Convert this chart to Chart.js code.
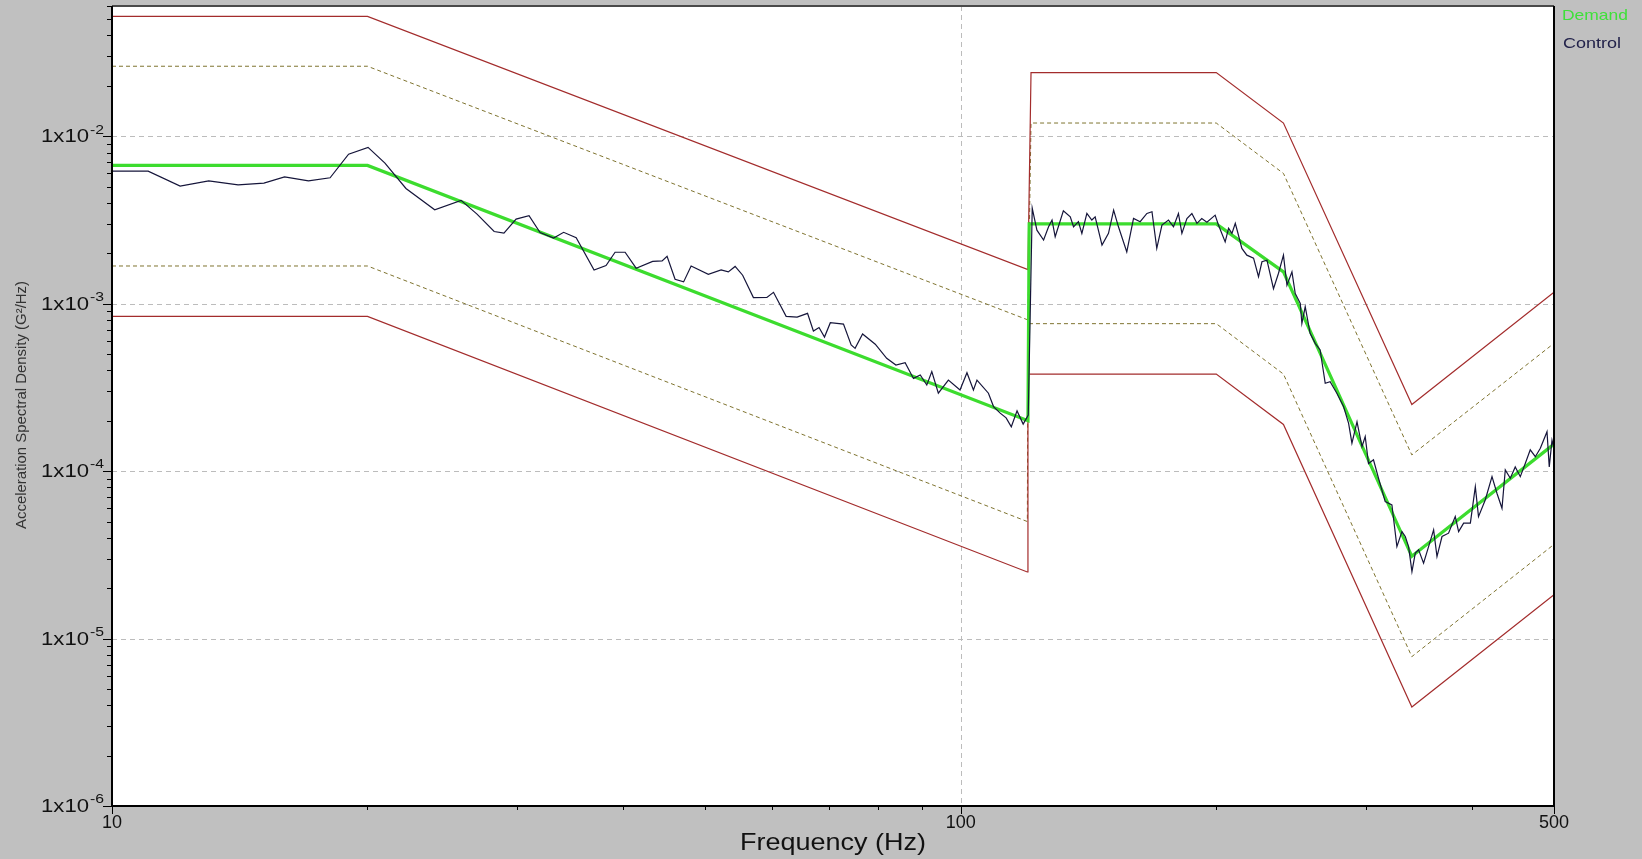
<!DOCTYPE html>
<html>
<head>
<meta charset="utf-8">
<title>Acceleration Spectral Density</title>
<script src="https://cdn.jsdelivr.net/npm/chart.js@4/dist/chart.umd.min.js"></script>
<style>
  html, body { margin: 0; padding: 0; background: #c0c0c0; }
  #wrap { width: 1642px; height: 859px; }
</style>
</head>
<body>
<div id="wrap"><canvas id="psd" width="1642" height="859"></canvas></div>
<script>
// ---- Axis ticks ----
const xTickValues = [10, 100, 500];
const xTickLabels = ['10', '100', '500'];
const xMinorTicks = [20, 30, 40, 50, 60, 70, 80, 90, 200, 300, 400];
const xGridValues = [100];

const yTickValues = [1e-6, 1e-5, 1e-4, 1e-3, 1e-2];
const yTickExponents = ['-6', '-5', '-4', '-3', '-2'];
const yGridValues = [1e-5, 1e-4, 1e-3, 1e-2];

// ---- Demand profile (G²/Hz) ----
const demandFreq = [10, 20, 120, 120.4, 200, 240, 340, 500];
const demandAsd  = [0.0067, 0.0067, 0.0002, 0.003, 0.003, 0.00155, 0.000031, 0.000145];

// ---- Tolerance lines (abort ±9 dB, alarm ±6 dB) ----
const upperFreq = [10, 20, 120, 121, 200, 240, 340, 500];
const lowerFreq = [10, 20, 119.8, 120, 200, 240, 340, 500];
const abortHigh = [0.052, 0.052, 0.0016, 0.024, 0.024, 0.012, 0.00025, 0.00117];
const alarmHigh = [0.0262, 0.0262, 0.0008, 0.012, 0.012, 0.006, 0.000125, 0.00058];
const alarmLow  = [0.00168, 0.00168, 0.00005, 0.00076, 0.00076, 0.00038, 0.0000078, 0.0000365];
const abortLow  = [0.00084, 0.00084, 0.000025, 0.00038, 0.00038, 0.00019, 0.0000039, 0.0000183];

// ---- Measured control spectrum ----
const controlFreq = [
  10, 11.03, 12.03, 13.0, 14.08, 15.1, 15.97, 17.04, 18.07, 19.0,
  20.03, 20.97, 22.2, 24.0, 25.78, 26.92, 28.2, 28.96, 29.93, 31.0,
  31.94, 33.14, 34.05, 35.23, 36.98, 38.2, 39.15, 40.23, 41.45, 43.35,
  44.48, 45.08, 46.07, 47.15, 48.12, 50.42, 52.2, 53.23, 54.22, 55.34,
  56.98, 59.1, 60.17, 62.27, 64.15, 65.99, 67.05, 68.08, 69.1, 70.2,
  72.75, 74.28, 75.08, 76.62, 79.3, 81.8, 83.87, 86.0, 87.96, 89.6,
  91.2, 92.45, 94.1, 96.7, 99.8, 101.7, 103.5, 104.5, 107.8, 109.3,
  111.3, 113.1, 114.7, 116.5, 118.45, 120.1,
  121.4, 122.95, 125.2, 126.9, 128.1, 129.2, 132.1, 134.6, 135.8, 137.6,
  138.9, 140.8, 142.7, 144.0, 146.7, 149.3, 151.4, 153.4, 156.9, 159.8,
  162.7, 165.7, 168.0, 170.2, 172.6, 175.7, 178.1, 180.5, 182.2, 184.7,
  187.2, 189.8, 192.3, 195.0, 199.4, 201.2, 204.9, 206.8, 208.7, 210.6,
  211.9, 214.4, 217.3, 221.3, 224.3, 226.4, 229.5, 233.6, 236.8, 240.0,
  242.3, 245.6, 247.8, 251.2, 252.3, 254.6, 258.0, 261.6, 265.1, 268.8,
  272.4, 277.4, 282.5, 286.4, 289.0, 293.0, 297.0, 299.6, 302.3, 306.4,
  310.6, 316.3, 322.1, 326.5, 331.0, 334.0, 337.0, 340.1, 343.2, 346.3,
  351.0, 355.8, 360.7, 364.0, 369.0, 375.6, 382.5, 386.0, 391.3, 398.5,
  403.9, 407.4, 414.9, 422.6, 428.3, 434.2, 438.1, 444.1, 450.1, 456.3,
  462.5, 468.8, 475.3, 481.8, 490.6, 493.6, 497.3, 499.4
];
const controlAsd = [
  6.19e-3, 6.19e-3, 5.04e-3, 5.42e-3, 5.13e-3, 5.25e-3, 5.72e-3, 5.42e-3, 5.65e-3, 7.82e-3,
  8.58e-3, 6.91e-3, 4.88e-3, 3.64e-3, 4.14e-3, 3.43e-3, 2.70e-3, 2.64e-3, 3.20e-3, 3.36e-3,
  2.66e-3, 2.47e-3, 2.67e-3, 2.48e-3, 1.59e-3, 1.69e-3, 2.03e-3, 2.03e-3, 1.63e-3, 1.79e-3,
  1.80e-3, 1.92e-3, 1.40e-3, 1.35e-3, 1.68e-3, 1.50e-3, 1.59e-3, 1.55e-3, 1.67e-3, 1.48e-3,
  1.088e-3, 1.09e-3, 1.17e-3, 8.40e-4, 8.32e-4, 8.76e-4, 6.87e-4, 7.21e-4, 6.32e-4, 7.70e-4,
  7.56e-4, 5.67e-4, 5.41e-4, 6.59e-4, 5.73e-4, 4.72e-4, 4.30e-4, 4.44e-4, 3.58e-4, 3.75e-4,
  3.27e-4, 3.93e-4, 2.92e-4, 3.50e-4, 3.05e-4, 3.87e-4, 3.05e-4, 3.50e-4, 2.92e-4, 2.43e-4,
  2.22e-4, 2.08e-4, 1.84e-4, 2.29e-4, 1.91e-4, 2.16e-4,
  3.72e-3, 2.75e-3, 2.40e-3, 2.88e-3, 3.16e-3, 2.51e-3, 3.59e-3, 3.30e-3, 2.88e-3, 3.09e-3,
  2.63e-3, 3.46e-3, 3.16e-3, 3.30e-3, 2.24e-3, 2.63e-3, 3.62e-3, 2.88e-3, 2.04e-3, 3.23e-3,
  3.09e-3, 3.46e-3, 3.54e-3, 2.14e-3, 2.95e-3, 3.16e-3, 2.88e-3, 3.46e-3, 2.63e-3, 3.23e-3,
  3.46e-3, 3.02e-3, 3.23e-3, 3.07e-3, 3.38e-3, 2.95e-3, 2.34e-3, 2.82e-3, 2.63e-3, 3.02e-3,
  2.69e-3, 2.14e-3, 1.95e-3, 1.87e-3, 1.45e-3, 1.78e-3, 1.82e-3, 1.23e-3, 1.52e-3, 1.95e-3,
  1.29e-3, 1.55e-3, 1.15e-3, 1.005e-3, 7.63e-4, 9.59e-4, 6.65e-4, 5.80e-4, 5.29e-4, 3.35e-4,
  3.42e-4, 2.92e-4, 2.43e-4, 1.93e-4, 1.47e-4, 1.97e-4, 1.40e-4, 1.61e-4, 1.11e-4, 1.17e-4,
  9.07e-5, 6.58e-5, 6.28e-5, 3.54e-5, 4.35e-5, 4.07e-5, 3.54e-5, 2.51e-5, 3.24e-5, 3.39e-5,
  2.82e-5, 3.54e-5, 4.46e-5, 3.09e-5, 4.07e-5, 4.26e-5, 5.35e-5, 4.35e-5, 4.89e-5, 4.89e-5,
  8.08e-5, 5.35e-5, 6.73e-5, 9.27e-5, 7.38e-5, 6.00e-5, 1.017e-4, 9.07e-5, 1.06e-4, 9.27e-5,
  1.11e-4, 1.34e-4, 1.22e-4, 1.37e-4, 1.72e-4, 1.06e-4, 1.53e-4, 1.40e-4
];

// ---- Styling ----
const PAGE_BG = '#c0c0c0';
const GRID = '#bcbcbc';
const ABORT = '#a32c2c';
const ALARM = '#7f7430';
const DEMAND = '#3cdc2e';
const CONTROL = '#15153a';
const FONT = '"Liberation Sans", Arial, sans-serif';

const toPoints = (xs, ys) => xs.map((x, i) => ({ x: x, y: ys[i] }));

// Draws text horizontally stretched/compressed to a given width.
function drawText(ctx, text, x, y, size, width, align, color) {
  ctx.save();
  ctx.font = size + 'px ' + FONT;
  const w = ctx.measureText(text).width;
  const s = width ? width / w : 1;
  ctx.translate(x, y);
  ctx.scale(s, 1);
  ctx.textAlign = align;
  ctx.textBaseline = 'middle';
  ctx.fillStyle = color;
  ctx.fillText(text, 0, 0);
  ctx.restore();
  return w * s;
}

const plotFrame = {
  id: 'plotFrame',
  beforeDraw(chart) {
    const { ctx, chartArea: a } = chart;
    const xs = chart.scales.x, ys = chart.scales.y;
    ctx.save();
    ctx.fillStyle = PAGE_BG;
    ctx.fillRect(0, 0, chart.width, chart.height);
    ctx.fillStyle = '#ffffff';
    ctx.fillRect(a.left, a.top, a.right - a.left, a.bottom - a.top);
    ctx.strokeStyle = GRID;
    ctx.lineWidth = 1;
    ctx.setLineDash([5, 4]);
    yGridValues.forEach(v => {
      const y = Math.round(ys.getPixelForValue(v)) + 0.5;
      ctx.beginPath(); ctx.moveTo(a.left, y); ctx.lineTo(a.right, y); ctx.stroke();
    });
    xGridValues.forEach(v => {
      const x = Math.round(xs.getPixelForValue(v)) + 0.5;
      ctx.beginPath(); ctx.moveTo(x, a.top); ctx.lineTo(x, a.bottom); ctx.stroke();
    });
    ctx.restore();
  },
  afterDraw(chart) {
    const { ctx, chartArea: a } = chart;
    const xs = chart.scales.x, ys = chart.scales.y;
    ctx.save();
    // frame
    ctx.lineWidth = 2;
    ctx.strokeStyle = '#4a4a4a';
    ctx.beginPath(); ctx.moveTo(a.left, a.top); ctx.lineTo(a.right, a.top); ctx.stroke();
    ctx.strokeStyle = '#000000';
    ctx.beginPath();
    ctx.moveTo(a.right, a.top); ctx.lineTo(a.right, a.bottom);
    ctx.moveTo(a.left, a.top); ctx.lineTo(a.left, a.bottom); ctx.lineTo(a.right, a.bottom);
    ctx.stroke();

    // tick marks
    ctx.lineWidth = 1;
    ctx.strokeStyle = '#000000';
    ctx.beginPath();
    for (let d = -6; d < -1; d++) {
      for (let m = 2; m <= 9; m++) {
        const v = m * Math.pow(10, d);
        if (v > ys.max) break;
        const y = Math.round(ys.getPixelForValue(v)) + 0.5;
        ctx.moveTo(a.left - 5, y); ctx.lineTo(a.left, y);
      }
    }
    yTickValues.forEach(v => {
      const y = Math.round(ys.getPixelForValue(v)) + 0.5;
      ctx.moveTo(a.left - 9, y); ctx.lineTo(a.left, y);
    });
    xMinorTicks.forEach(v => {
      const x = Math.round(xs.getPixelForValue(v)) + 0.5;
      ctx.moveTo(x, a.bottom); ctx.lineTo(x, a.bottom + 4);
    });
    xTickValues.forEach(v => {
      const x = Math.round(xs.getPixelForValue(v)) + 0.5;
      ctx.moveTo(x, a.bottom); ctx.lineTo(x, a.bottom + 8);
    });
    ctx.stroke();

    // y tick labels: 1x10 with a raised exponent
    yTickValues.forEach((v, i) => {
      const y = ys.getPixelForValue(v);
      const ew = drawText(ctx, yTickExponents[i], a.left - 8, y - 6, 12, 14, 'right', '#111');
      drawText(ctx, '1x10', a.left - 8 - ew - 1, y + 1, 18, 48, 'right', '#111');
    });

    // x tick labels
    xTickValues.forEach((v, i) => {
      const x = xs.getPixelForValue(v);
      drawText(ctx, xTickLabels[i], x, a.bottom + 17, 18, 0, 'center', '#111');
    });

    // axis titles
    drawText(ctx, 'Frequency (Hz)', (a.left + a.right) / 2, 843, 24, 186, 'center', '#111');
    ctx.save();
    ctx.translate(22, 405);
    ctx.rotate(-Math.PI / 2);
    drawText(ctx, 'Acceleration Spectral Density (G²/Hz)', 0, 0, 15, 248, 'center', '#333');
    ctx.restore();

    // series names at the right
    drawText(ctx, 'Demand', 1562, 16, 15, 66, 'left', '#3fe03a');
    drawText(ctx, 'Control', 1563, 44, 15, 58, 'left', '#22224a');
    ctx.restore();
  }
};

new Chart(document.getElementById('psd'), {
  type: 'line',
  data: {
    datasets: [
      { label: 'Control', data: toPoints(controlFreq, controlAsd), borderColor: CONTROL, borderWidth: 1.2, order: 0 },
      { label: 'Demand', data: toPoints(demandFreq, demandAsd), borderColor: DEMAND, borderWidth: 3.2, order: 1 },
      { label: 'Abort high', data: toPoints(upperFreq, abortHigh), borderColor: ABORT, borderWidth: 1.2, order: 2 },
      { label: 'Abort low', data: toPoints(lowerFreq, abortLow), borderColor: ABORT, borderWidth: 1.2, order: 2 },
      { label: 'Alarm high', data: toPoints(upperFreq, alarmHigh), borderColor: ALARM, borderWidth: 1, borderDash: [4, 3], order: 3 },
      { label: 'Alarm low', data: toPoints(lowerFreq, alarmLow), borderColor: ALARM, borderWidth: 1, borderDash: [4, 3], order: 3 }
    ]
  },
  options: {
    responsive: false,
    animation: false,
    events: [],
    elements: { point: { radius: 0 }, line: { tension: 0, fill: false } },
    layout: { padding: { left: 0, right: 88, top: 6, bottom: 0 } },
    plugins: { legend: { display: false }, tooltip: { enabled: false }, title: { display: false } },
    scales: {
      x: {
        type: 'logarithmic', min: 10, max: 500,
        grid: { display: false, drawTicks: false },
        border: { display: false },
        ticks: { display: false },
        afterFit: s => { s.height = 53; }
      },
      y: {
        type: 'logarithmic', min: 1e-6, max: 0.06,
        grid: { display: false, drawTicks: false },
        border: { display: false },
        ticks: { display: false },
        afterFit: s => { s.width = 112; }
      }
    }
  },
  plugins: [plotFrame]
});
</script>
</body>
</html>
